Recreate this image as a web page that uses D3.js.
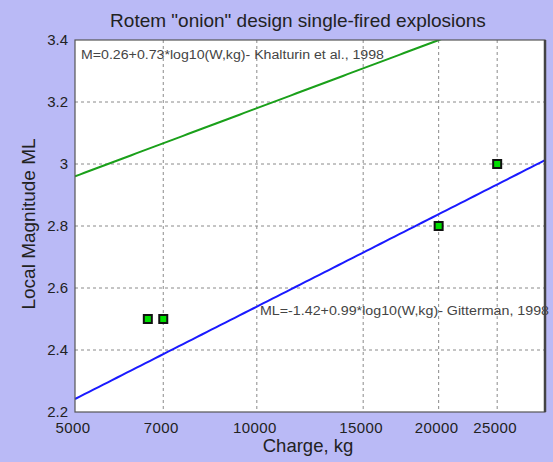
<!DOCTYPE html>
<html>
<head>
<meta charset="utf-8">
<script src="https://cdn.jsdelivr.net/npm/d3@7"></script>
<style>
  html, body { margin: 0; padding: 0; background: #babaf6; }
  svg { display: block; font-family: "Liberation Sans", Arial, sans-serif; }
</style>
</head>
<body>
<svg id="chart" width="553" height="462"></svg>
<script>
// Shot charges (kg) and observed local magnitudes
const charges = [6600, 7000, 20000, 25000];
const magnitudes = [2.5, 2.5, 2.8, 3.0];

const xTicks = [5000, 7000, 10000, 15000, 20000, 25000];
const yTicks = [2.2, 2.4, 2.6, 2.8, 3.0, 3.2, 3.4];

// Empirical relations: M = a + b*log10(W)
const khalturin = { a: 0.26, b: 0.73, label: "M=0.26+0.73*log10(W,kg)- Khalturin et al., 1998" };
const gitterman = { a: -1.42, b: 0.99, label: "ML=-1.42+0.99*log10(W,kg)- Gitterman, 1998" };

const svg = d3.select("#chart");
const m = { left: 75, right: 545, top: 40, bottom: 412 };

const x = d3.scaleLog().domain([5000, 30000]).range([m.left, m.right]);
const y = d3.scaleLinear().domain([2.2, 3.4]).range([m.bottom, m.top]);

svg.append("rect").attr("width", 553).attr("height", 462).attr("fill", "#babaf6");
svg.append("rect")
  .attr("x", m.left).attr("y", m.top)
  .attr("width", m.right - m.left).attr("height", m.bottom - m.top)
  .attr("fill", "#ffffff");

// Dashed grid
const grid = svg.append("g").attr("stroke", "#8a8a8a").attr("stroke-width", 1).attr("stroke-dasharray", "3,3");
grid.selectAll(".gx").data(xTicks.slice(1)).join("line")
  .attr("x1", d => x(d)).attr("x2", d => x(d))
  .attr("y1", m.top).attr("y2", m.bottom);
grid.selectAll(".gy").data(yTicks.slice(1, -1)).join("line")
  .attr("x1", m.left).attr("x2", m.right)
  .attr("y1", d => y(d)).attr("y2", d => y(d));

svg.append("clipPath").attr("id", "plotclip")
  .append("rect").attr("x", m.left).attr("y", m.top)
  .attr("width", m.right - m.left).attr("height", m.bottom - m.top);

const fitLine = d3.line().x(d => x(d[0])).y(d => y(d[1]));
const wSamples = d3.range(0, 101).map(i => 5000 * Math.pow(6, i / 100));
const plot = svg.append("g").attr("clip-path", "url(#plotclip)");
plot.append("path")
  .attr("d", fitLine(wSamples.map(w => [w, khalturin.a + khalturin.b * Math.log10(w)])))
  .attr("fill", "none").attr("stroke", "#1aa01a").attr("stroke-width", 2);
plot.append("path")
  .attr("d", fitLine(wSamples.map(w => [w, gitterman.a + gitterman.b * Math.log10(w)])))
  .attr("fill", "none").attr("stroke", "#1a1aff").attr("stroke-width", 2);

// Annotations
svg.append("text").attr("x", 81).attr("y", 59)
  .attr("font-size", 12).attr("fill", "#444")
  .attr("textLength", 303).attr("lengthAdjust", "spacingAndGlyphs")
  .text(khalturin.label);
svg.append("text").attr("x", 260).attr("y", 315)
  .attr("font-size", 12).attr("fill", "#444")
  .attr("textLength", 289).attr("lengthAdjust", "spacingAndGlyphs")
  .text(gitterman.label);

// Observed events
svg.append("g").selectAll("rect").data(charges.map((c, i) => [c, magnitudes[i]])).join("rect")
  .attr("x", d => x(d[0]) - 4).attr("y", d => y(d[1]) - 4)
  .attr("width", 8).attr("height", 8)
  .attr("fill", "#00e000").attr("stroke", "#111").attr("stroke-width", 2);

// Axis frame
svg.append("rect")
  .attr("x", m.left).attr("y", m.top)
  .attr("width", m.right - m.left).attr("height", m.bottom - m.top)
  .attr("fill", "none").attr("stroke", "#555").attr("stroke-width", 1.2);
svg.append("line").attr("x1", m.right).attr("x2", m.right).attr("y1", m.top).attr("y2", m.bottom)
  .attr("stroke", "#444").attr("stroke-width", 2.5);

// Tick labels
svg.append("g").selectAll("text").data(xTicks).join("text")
  .attr("x", d => x(d) - 2).attr("y", 433)
  .attr("text-anchor", "middle").attr("font-size", 15).attr("fill", "#222")
  .attr("letter-spacing", 0.4)
  .text(d => d);
svg.append("g").selectAll("text").data(yTicks).join("text")
  .attr("x", 68).attr("y", d => y(d) + 5)
  .attr("text-anchor", "end").attr("font-size", 15).attr("fill", "#222")
  .text(d => d3.format("~g")(d));

// Titles
svg.append("text").attr("x", 298).attr("y", 27)
  .attr("text-anchor", "middle").attr("font-size", 19).attr("fill", "#222")
  .text('Rotem "onion" design single-fired explosions');
svg.append("text").attr("x", 308).attr("y", 452)
  .attr("text-anchor", "middle").attr("font-size", 18.5).attr("fill", "#222")
  .text("Charge, kg");
svg.append("text").attr("transform", "translate(35,224) rotate(-90)")
  .attr("text-anchor", "middle").attr("font-size", 19).attr("fill", "#222")
  .text("Local Magnitude ML");
</script>
</body>
</html>
